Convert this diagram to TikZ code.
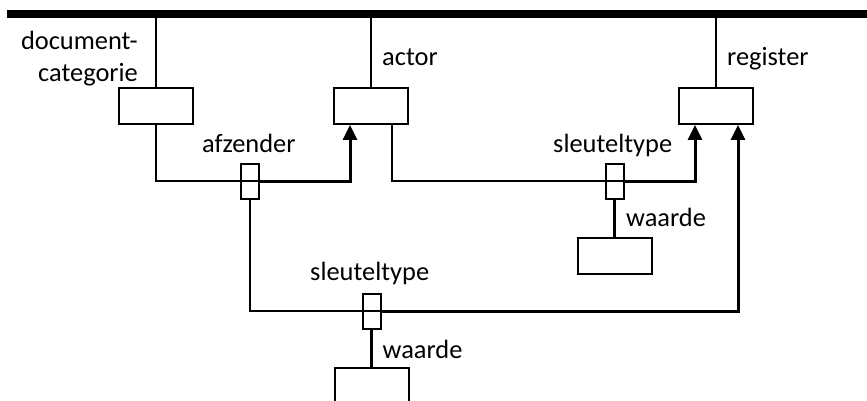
\documentclass[tikz,border=0pt]{standalone}
\usepackage{fontspec}
\setmainfont{Carlito}
\usetikzlibrary{arrows.meta,calc}
\begin{document}
\begin{tikzpicture}[x=1pt,y=-1pt,
  box/.style={draw,line width=2pt,inner sep=0pt,minimum width=74pt,minimum height=36pt},
  conn/.style={draw,line width=2pt,inner sep=0pt,minimum width=18pt,minimum height=35pt},
  lbl/.style={anchor=base west,inner sep=0pt,font=\fontsize{26.4}{32}\selectfont},
  lblr/.style={anchor=base east,inner sep=0pt,font=\fontsize{26.4}{32}\selectfont},
  thinline/.style={line width=2.2pt},
  thickline/.style={line width=3pt,-{Triangle[width=14pt,length=15pt]}}]
\clip (0,0) rectangle (867,401);
\fill[white] (0,0) rectangle (867,401);
\coordinate (bl) at (7,13.8);
\coordinate (br) at (867,13.8);
\draw[line width=7.5pt] (bl) -- (br);
% boxes
\node[box] (doccat) at (156,106) {};
\node[box] (actor) at (371,106) {};
\node[box] (register) at (716,106) {};
\node[conn] (afz) at (250,181) {};
\node[conn] (sk1) at (614.5,181) {};
\node[conn] (sk2) at (371.5,311) {};
\node[box] (w1) at (614.5,256) {};
\node[box] (w2) at (371.5,386) {};
% labels
\node[lblr] (dc1) at (138,50) {document-};
\node[lblr] (dc2) at (138,82) {categorie};
\node[lbl] (la) at (382,66) {actor};
\node[lbl] (lr) at (727,66) {register};
\node[lbl] (lafz) at (202,153) {afzender};
\node[lbl] (lsk1) at (553,152) {sleuteltype};
\node[lbl] (lw1) at (626,226.5) {waarde};
\node[lbl] (lsk2) at (310,280) {sleuteltype};
\node[lbl] (lw2) at (382.5,358) {waarde};
% links to bar
\draw[thinline] (doccat.north) -- (doccat.north |- bl);
\draw[thinline] (actor.north) -- (actor.north |- bl);
\draw[thinline] (register.north) -- (register.north |- bl);
% afzender
\draw[thinline] (doccat.south) |- (afz.east);
\draw[thickline] (afz.east) -| ($(actor.south)+(-21,0)$);
% actor sleuteltype
\draw[thinline] ($(actor.south)+(21,0)$) |- (sk1.east);
\draw[thickline] (sk1.east) -| ($(register.south)+(-21,0)$);
\draw[thinline] (sk1.south) -- (w1.north);
% afzender sleuteltype
\draw[thinline] (afz.south) |- (sk2.east);
\draw[thickline] (sk2.east) -| ($(register.south)+(22,0)$);
\draw[thinline] (sk2.south) -- (w2.north);
\end{tikzpicture}
\end{document}
